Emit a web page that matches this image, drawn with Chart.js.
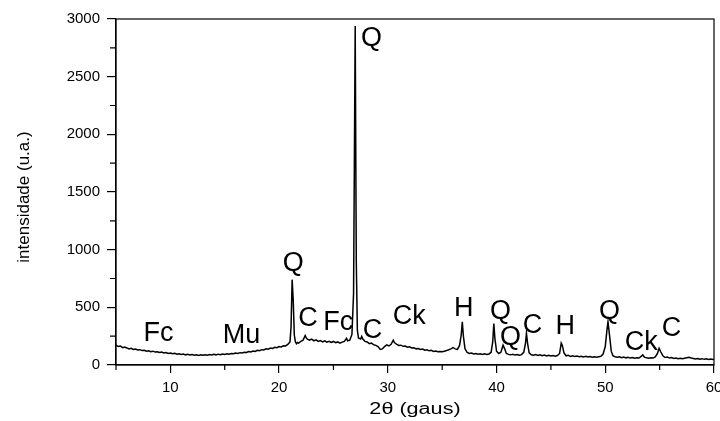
<!DOCTYPE html>
<html>
<head>
<meta charset="utf-8">
<script src="https://cdn.jsdelivr.net/npm/chart.js@4"></script>
<style>
  html, body { margin: 0; padding: 0; background: #fff; }
  canvas { display: block; }
</style>
</head>
<body>
<canvas id="xrd" width="720" height="421"></canvas>
<script>
// diffractogram (2θ in degrees, intensity in u.a.)
const twoTheta = [
  5.0, 5.2, 5.4, 5.6, 5.8, 6.0, 6.2, 6.4, 6.6, 6.8,
  7.0, 7.2, 7.4, 7.6, 7.8, 8.0, 8.2, 8.4, 8.6, 8.8,
  9.0, 9.2, 9.4, 9.6, 9.8, 10.0, 10.2, 10.4, 10.6, 10.8,
  11.0, 11.2, 11.4, 11.6, 11.8, 12.0, 12.2, 12.4, 12.6, 12.8,
  13.0, 13.2, 13.4, 13.6, 13.8, 14.0, 14.2, 14.4, 14.6, 14.8,
  15.0, 15.2, 15.4, 15.6, 15.8, 16.0, 16.2, 16.4, 16.6, 16.8,
  17.0, 17.2, 17.4, 17.6, 17.8, 18.0, 18.2, 18.4, 18.6, 18.8,
  19.0, 19.2, 19.4, 19.6, 19.8, 20.0, 20.2, 20.4, 20.6, 20.8,
  21.0, 21.1, 21.2, 21.3, 21.4, 21.5, 21.6, 21.7, 21.8, 22.0,
  22.2, 22.4, 22.5, 22.6, 22.8, 23.0, 23.2, 23.4, 23.6, 23.8,
  24.0, 24.2, 24.4, 24.6, 24.8, 25.0, 25.2, 25.4, 25.6, 25.8,
  26.0, 26.2, 26.3, 26.5, 26.7, 26.85, 27.0, 27.1, 27.2, 27.3,
  27.5, 27.6, 27.7, 27.9, 28.1, 28.3, 28.5, 28.7, 28.9, 29.1,
  29.3, 29.5, 29.7, 29.9, 30.1, 30.3, 30.5, 30.6, 30.8, 31.0,
  31.2, 31.4, 31.6, 31.8, 32.0, 32.2, 32.4, 32.6, 32.8, 33.0,
  33.2, 33.4, 33.6, 33.8, 34.0, 34.2, 34.4, 34.6, 34.8, 35.0,
  35.2, 35.4, 35.6, 35.8, 36.0, 36.2, 36.4, 36.6, 36.75, 36.85,
  36.95, 37.1, 37.3, 37.5, 37.7, 37.9, 38.1, 38.3, 38.5, 38.7,
  38.9, 39.1, 39.3, 39.5, 39.65, 39.75, 39.85, 40.0, 40.2, 40.4,
  40.6, 40.75, 40.9, 41.1, 41.3, 41.5, 41.7, 41.9, 42.1, 42.3,
  42.5, 42.65, 42.75, 42.85, 43.0, 43.2, 43.4, 43.6, 43.8, 44.0,
  44.2, 44.4, 44.6, 44.8, 45.0, 45.2, 45.4, 45.6, 45.8, 45.95,
  46.05, 46.2, 46.4, 46.6, 46.8, 47.0, 47.2, 47.4, 47.6, 47.8,
  48.0, 48.2, 48.4, 48.6, 48.8, 49.0, 49.2, 49.4, 49.6, 49.8,
  50.0, 50.15, 50.25, 50.4, 50.55, 50.7, 50.9, 51.1, 51.3, 51.5,
  51.7, 51.9, 52.1, 52.3, 52.5, 52.7, 52.9, 53.1, 53.3, 53.45,
  53.6, 53.8, 54.0, 54.2, 54.4, 54.6, 54.8, 54.95, 55.1, 55.3,
  55.5, 55.7, 55.9, 56.1, 56.3, 56.5, 56.7, 56.9, 57.1, 57.3,
  57.5, 57.7, 57.9, 58.1, 58.3, 58.5, 58.7, 58.9, 59.1, 59.3,
  59.5, 59.7, 59.9, 60.0
];
const intensity = [
  172, 160, 165, 150, 155, 148, 140, 145, 135, 138,
  130, 133, 125, 128, 120, 124, 116, 120, 112, 115,
  108, 112, 104, 108, 100, 104, 97, 101, 94, 98,
  91, 95, 88, 92, 86, 90, 84, 89, 83, 88,
  84, 89, 85, 91, 86, 92, 88, 94, 90, 96,
  92, 98, 94, 100, 97, 103, 100, 107, 104, 111,
  108, 116, 113, 121, 118, 127, 124, 133, 130, 140,
  137, 147, 144, 153, 150, 160, 157, 167, 165, 178,
  200, 330, 740, 560, 260, 200, 185, 195, 190, 205,
  215, 255, 235, 225, 215, 225, 210, 218, 205, 212,
  200, 210, 198, 206, 195, 204, 193, 200, 190, 198,
  205, 232, 210, 215, 265, 620, 2940, 900, 300, 235,
  225, 248, 225, 205, 200, 185, 190, 175, 170, 160,
  135, 140, 160, 175, 165, 180, 215, 195, 180, 170,
  172, 162, 165, 155, 158, 148, 150, 140, 143, 135,
  138, 128, 132, 123, 127, 118, 122, 115, 118, 116,
  120, 125, 132, 140, 150, 140, 135, 170, 260, 375,
  250, 140, 110, 100, 104, 96, 100, 93, 98, 92,
  97, 92, 96, 110, 200, 360, 230, 120, 100, 110,
  172, 140, 100, 92, 88, 93, 86, 91, 85, 90,
  110, 180, 275, 190, 105, 88, 84, 90, 82, 88,
  80, 86, 79, 84, 78, 83, 77, 82, 100, 190,
  170, 105, 80, 85, 75, 80, 73, 78, 71, 76,
  70, 75, 69, 73, 68, 72, 67, 71, 75, 95,
  160, 300, 375, 250, 120, 80, 72, 67, 71, 64,
  69, 62, 67, 60, 65, 59, 63, 60, 75, 88,
  68, 62, 58, 63, 60, 70, 100, 145, 115, 80,
  65, 70, 60, 64, 57, 61, 55, 59, 54, 58,
  62, 66, 60, 57, 52, 56, 50, 55, 49, 53,
  48, 52, 47, 50
];

const xTicks = [10, 20, 30, 40, 50, 60];
const xMinor = [5, 15, 25, 35, 45, 55];
const yTicks = [0, 500, 1000, 1500, 2000, 2500, 3000];
const yMinor = [250, 750, 1250, 1750, 2250, 2750];

// phase labels, anchored in data units (text centre)
const phaseNames = ['Fc', 'Mu', 'Q', 'C', 'Fc', 'Q', 'C', 'Ck', 'H', 'Q', 'Q', 'C', 'H', 'Q', 'Ck', 'C'];
const phaseAt2T  = [8.9, 16.55, 21.3, 22.67, 25.43, 28.5, 28.59, 31.96, 36.99, 40.36, 41.28, 43.3, 46.33, 50.4, 53.32, 56.08];
const phaseAtI   = [289, 275, 896, 419, 390, 2847, 318, 434, 506, 477, 260, 356, 347, 483, 211, 332];

const FONT = '"Liberation Sans", Arial, Helvetica, sans-serif';

const decorations = {
  id: 'decorations',
  afterDraw(chart) {
    const { ctx, chartArea: a, scales: { x, y } } = chart;
    ctx.save();
    ctx.strokeStyle = '#000';
    ctx.lineWidth = 1.2;
    ctx.strokeRect(a.left, a.top, a.right - a.left, a.bottom - a.top);

    ctx.beginPath();
    xMinor.forEach(v => {
      const px = x.getPixelForValue(v);
      ctx.moveTo(px, a.bottom);
      ctx.lineTo(px, a.bottom + 5);
    });
    yMinor.forEach(v => {
      const py = y.getPixelForValue(v);
      ctx.moveTo(a.left, py);
      ctx.lineTo(a.left - 6, py);
    });
    ctx.stroke();

    ctx.fillStyle = '#000';
    ctx.textAlign = 'center';
    ctx.textBaseline = 'alphabetic';
    ctx.font = '27px ' + FONT;
    phaseNames.forEach((t, i) => {
      ctx.fillText(t, x.getPixelForValue(phaseAt2T[i]), y.getPixelForValue(phaseAtI[i]) + 9.5);
    });

    // axis titles
    ctx.font = '16px ' + FONT;
    ctx.save();
    ctx.translate((a.left + a.right) / 2, 414);
    ctx.scale(1.35, 1);
    ctx.fillText('2θ (gaus)', 0, 0);
    ctx.restore();

    ctx.save();
    ctx.translate(29, 197);
    ctx.rotate(-Math.PI / 2);
    ctx.font = '17px ' + FONT;
    ctx.fillText('intensidade (u.a.)', 0, 0);
    ctx.restore();

    ctx.restore();
  }
};

new Chart(document.getElementById('xrd'), {
  type: 'line',
  data: {
    datasets: [{
      data: twoTheta.map((t, i) => ({ x: t, y: intensity[i] })),
      borderColor: '#000',
      borderWidth: 1.5,
      pointRadius: 0,
      tension: 0,
      fill: false
    }]
  },
  options: {
    responsive: false,
    animation: false,
    devicePixelRatio: 1,
    layout: { padding: { top: 19, right: 6, left: 0, bottom: 0 } },
    plugins: { legend: { display: false }, tooltip: { enabled: false } },
    scales: {
      x: {
        type: 'linear',
        min: 5,
        max: 60,
        afterBuildTicks: s => { s.ticks = xTicks.map(v => ({ value: v })); },
        afterFit: s => { s.height = 56; s.paddingRight = 0; s.paddingLeft = 0; },
        grid: { display: true, drawOnChartArea: false, drawTicks: true, tickLength: 8, color: '#000', lineWidth: 1.2 },
        border: { display: true, color: '#000', width: 1.2 },
        ticks: { color: '#000', font: { family: FONT, size: 15 }, padding: 6, maxRotation: 0, callback: v => String(v) }
      },
      y: {
        min: 0,
        max: 3000,
        afterBuildTicks: s => { s.ticks = yTicks.map(v => ({ value: v })); },
        afterFit: s => { s.width = 116; s.paddingTop = 0; s.paddingBottom = 0; },
        grid: { display: true, drawOnChartArea: false, drawTicks: true, tickLength: 9, color: '#000', lineWidth: 1.2 },
        border: { display: true, color: '#000', width: 1.2 },
        ticks: { color: '#000', font: { family: FONT, size: 15 }, padding: 7, callback: v => String(v) }
      }
    }
  },
  plugins: [decorations]
});
</script>
</body>
</html>
